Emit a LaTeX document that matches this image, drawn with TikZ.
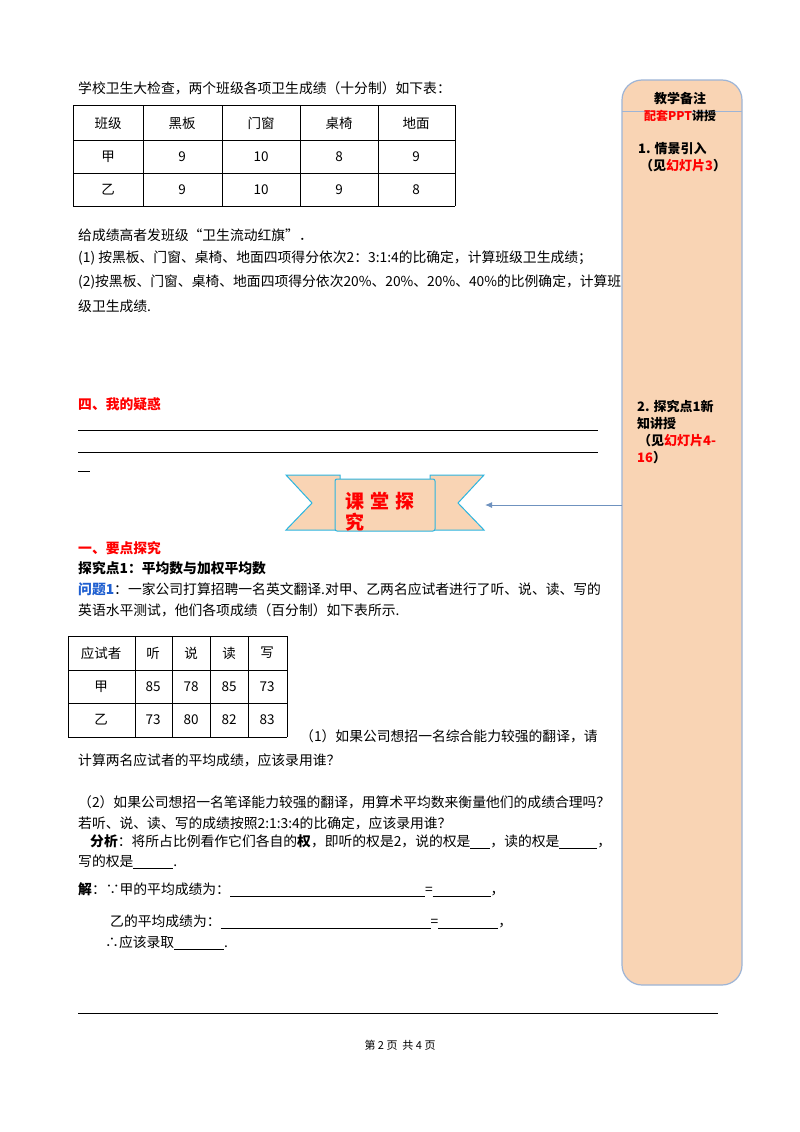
\documentclass[tikz,border=0pt]{standalone}
\usepackage{fontspec}
\setmainfont{Noto Sans CJK SC}
\usetikzlibrary{arrows.meta}
\definecolor{peach}{HTML}{F9D4B4}
\definecolor{pborder}{HTML}{9DB4D6}
\definecolor{ribbon}{HTML}{2BB5E0}
\definecolor{arr}{HTML}{6F92BF}
\definecolor{qblue}{HTML}{1F5FD0}
\begin{document}
\begin{tikzpicture}[x=1pt,y=-1pt,
  t/.style={anchor=west,inner sep=0pt,font=\fontsize{13.8}{15}\selectfont},
  c/.style={inner sep=0pt,font=\fontsize{13.5}{15}\selectfont},
  p/.style={anchor=west,inner sep=0pt,font=\fontsize{13}{15}\selectfont\bfseries},
  tb/.style={line width=0.6pt}]
\useasboundingbox (0,0) rectangle (800,1132);
\fill[white] (0,0) rectangle (800,1132);
% side panel
\draw[fill=peach,draw=pborder,line width=1.2pt,rounded corners=20pt] (622,80) rectangle (742,985);
\draw[pborder,line width=1pt] (622,111) -- (742,111);
\node[c,font=\fontsize{13}{15}\selectfont\bfseries] (pn1) at (680,99) {教学备注};
\node[c,font=\fontsize{12}{14}\selectfont\bfseries] (pn2) at (680,116) {\textcolor{red}{配套PPT}讲授};
\node[p] (pn3) at (638,149) {1. 情景引入};
\node[p] (pn4) at (640,166) {（见\textcolor{red}{幻灯片3}）};
\node[p] (pn5) at (637,406) {2. 探究点1新};
\node[p] (pn6) at (637,424) {知讲授};
\node[p] (pn7) at (638,441) {（见\textcolor{red}{幻灯片4-}};
\node[p] (pn8) at (637,458) {\textcolor{red}{16}）};
% top text
\node[t] (l1) at (78,88) {学校卫生大检查，两个班级各项卫生成绩（十分制）如下表：};
% table 1
\foreach \y in {105,140,173,206} \draw[tb] (73,\y) -- (455,\y);
\foreach \x in {73,143,222,300,378,455} \draw[tb] (\x,105) -- (\x,206);
\node[c] (a1) at (108,123) {班级}; \node[c] (a2) at (182,123) {黑板};
\node[c] (a3) at (261,123) {门窗}; \node[c] (a4) at (339,123) {桌椅};
\node[c] (a5) at (416,123) {地面};
\node[c] (b1) at (108,157) {甲}; \node[c] (b2) at (182,157) {9};
\node[c] (b3) at (261,157) {10}; \node[c] (b4) at (339,157) {8};
\node[c] (b5) at (416,157) {9};
\node[c] (d1) at (108,190) {乙}; \node[c] (d2) at (182,190) {9};
\node[c] (d3) at (261,190) {10}; \node[c] (d4) at (339,190) {9};
\node[c] (d5) at (416,190) {8};
\node[t] (l2) at (78,235) {给成绩高者发班级“卫生流动红旗”．};
\node[t] (l3) at (78,258) {(1) 按黑板、门窗、桌椅、地面四项得分依次2：3:1:4的比确定，计算班级卫生成绩；};
\node[t] (l4) at (78,282) {(2)按黑板、门窗、桌椅、地面四项得分依次20\%、20\%、20\%、40\%的比例确定，计算班};
\node[t] (l5) at (78,306) {级卫生成绩.};
\node[t,text=red,font=\fontsize{13.8}{15}\selectfont\bfseries] (h4) at (78,404) {四、我的疑惑};
\draw[line width=0.6pt] (78,430) -- (598,430);
\draw[line width=0.6pt] (78,452) -- (598,452);
\draw[line width=0.6pt] (78,471) -- (90,471);
% ribbon
\draw[fill=peach,draw=ribbon,line width=1pt] (286,475) -- (340,475) -- (340,530) -- (286,530) -- (312,503) -- cycle;
\draw[fill=peach,draw=ribbon,line width=1pt] (484,475) -- (430,475) -- (430,530) -- (484,530) -- (458,503) -- cycle;
\draw[fill=peach,draw=ribbon,line width=1pt,rounded corners=2pt] (335,479) rectangle (435,531);
\node[c,text=red,font=\fontsize{19}{21}\selectfont\bfseries,align=left,text width=86pt] (rb) at (388,512) {课 堂 探\\究};
\coordinate (pl) at (622,505);
\coordinate (rt) at (485,505);
\draw[arr,line width=1pt,-{Latex[length=7pt,width=6pt]}] (pl) -- (rt);
% section one
\node[t,text=red,font=\fontsize{13.8}{15}\selectfont\bfseries] (h1) at (78,548) {一、要点探究};
\node[t,font=\fontsize{13.8}{15}\selectfont\bfseries] (h2) at (78,568) {探究点1：平均数与加权平均数};
\node[t] (q1) at (78,589) {\textcolor{qblue}{\bfseries 问题1}：一家公司打算招聘一名英文翻译.对甲、乙两名应试者进行了听、说、读、写的};
\node[t] (q2) at (78,610) {英语水平测试，他们各项成绩（百分制）如下表所示.};
% table 2
\foreach \y in {636,670,703,737} \draw[tb] (68,\y) -- (287,\y);
\foreach \x in {68,135,172,210,248,287} \draw[tb] (\x,636) -- (\x,737);
\node[c] (e1) at (101,653) {应试者}; \node[c] (e2) at (153,653) {听};
\node[c] (e3) at (191,653) {说}; \node[c] (e4) at (229,653) {读};
\node[c] (e5) at (267,653) {写};
\node[c] (f1) at (101,687) {甲}; \node[c] (f2) at (153,687) {85};
\node[c] (f3) at (191,687) {78}; \node[c] (f4) at (229,687) {85};
\node[c] (f5) at (267,687) {73};
\node[c] (g1) at (101,720) {乙}; \node[c] (g2) at (153,720) {73};
\node[c] (g3) at (191,720) {80}; \node[c] (g4) at (229,720) {82};
\node[c] (g5) at (267,720) {83};
\node[t] (m1) at (300,736) {（1）如果公司想招一名综合能力较强的翻译，请};
\node[t] (m2) at (78,760) {计算两名应试者的平均成绩，应该录用谁？};
\node[t] (m3) at (78,802) {（2）如果公司想招一名笔译能力较强的翻译，用算术平均数来衡量他们的成绩合理吗？};
\node[t] (m4) at (78,823) {若听、说、读、写的成绩按照2:1:3:4的比确定，应该录用谁？};
\node[t] (m5) at (90,842) {\textbf{分析}：将所占比例看作它们各自的\textbf{权}，即听的权是2，说的权是\underline{\hspace{20pt}}，读的权是\underline{\hspace{38pt}}，};
\node[t] (m6) at (78,862) {写的权是\underline{\hspace{40pt}}.};
\node[t] (s1) at (78,890) {\textbf{解}：∵甲的平均成绩为：\underline{\hspace{195pt}}=\underline{\hspace{58pt}}，};
\node[t] (s2) at (110,922) {乙的平均成绩为：\underline{\hspace{210pt}}=\underline{\hspace{60pt}}，};
\node[t] (s3) at (105,943) {∴应该录取\underline{\hspace{50pt}}.};
% footer
\draw[line width=0.8pt] (78,1013) -- (718,1013);
\node[c,font=\fontsize{11}{12}\selectfont] (ft) at (400,1045) {第~2~页~~共~4~页};
\end{tikzpicture}
\end{document}
